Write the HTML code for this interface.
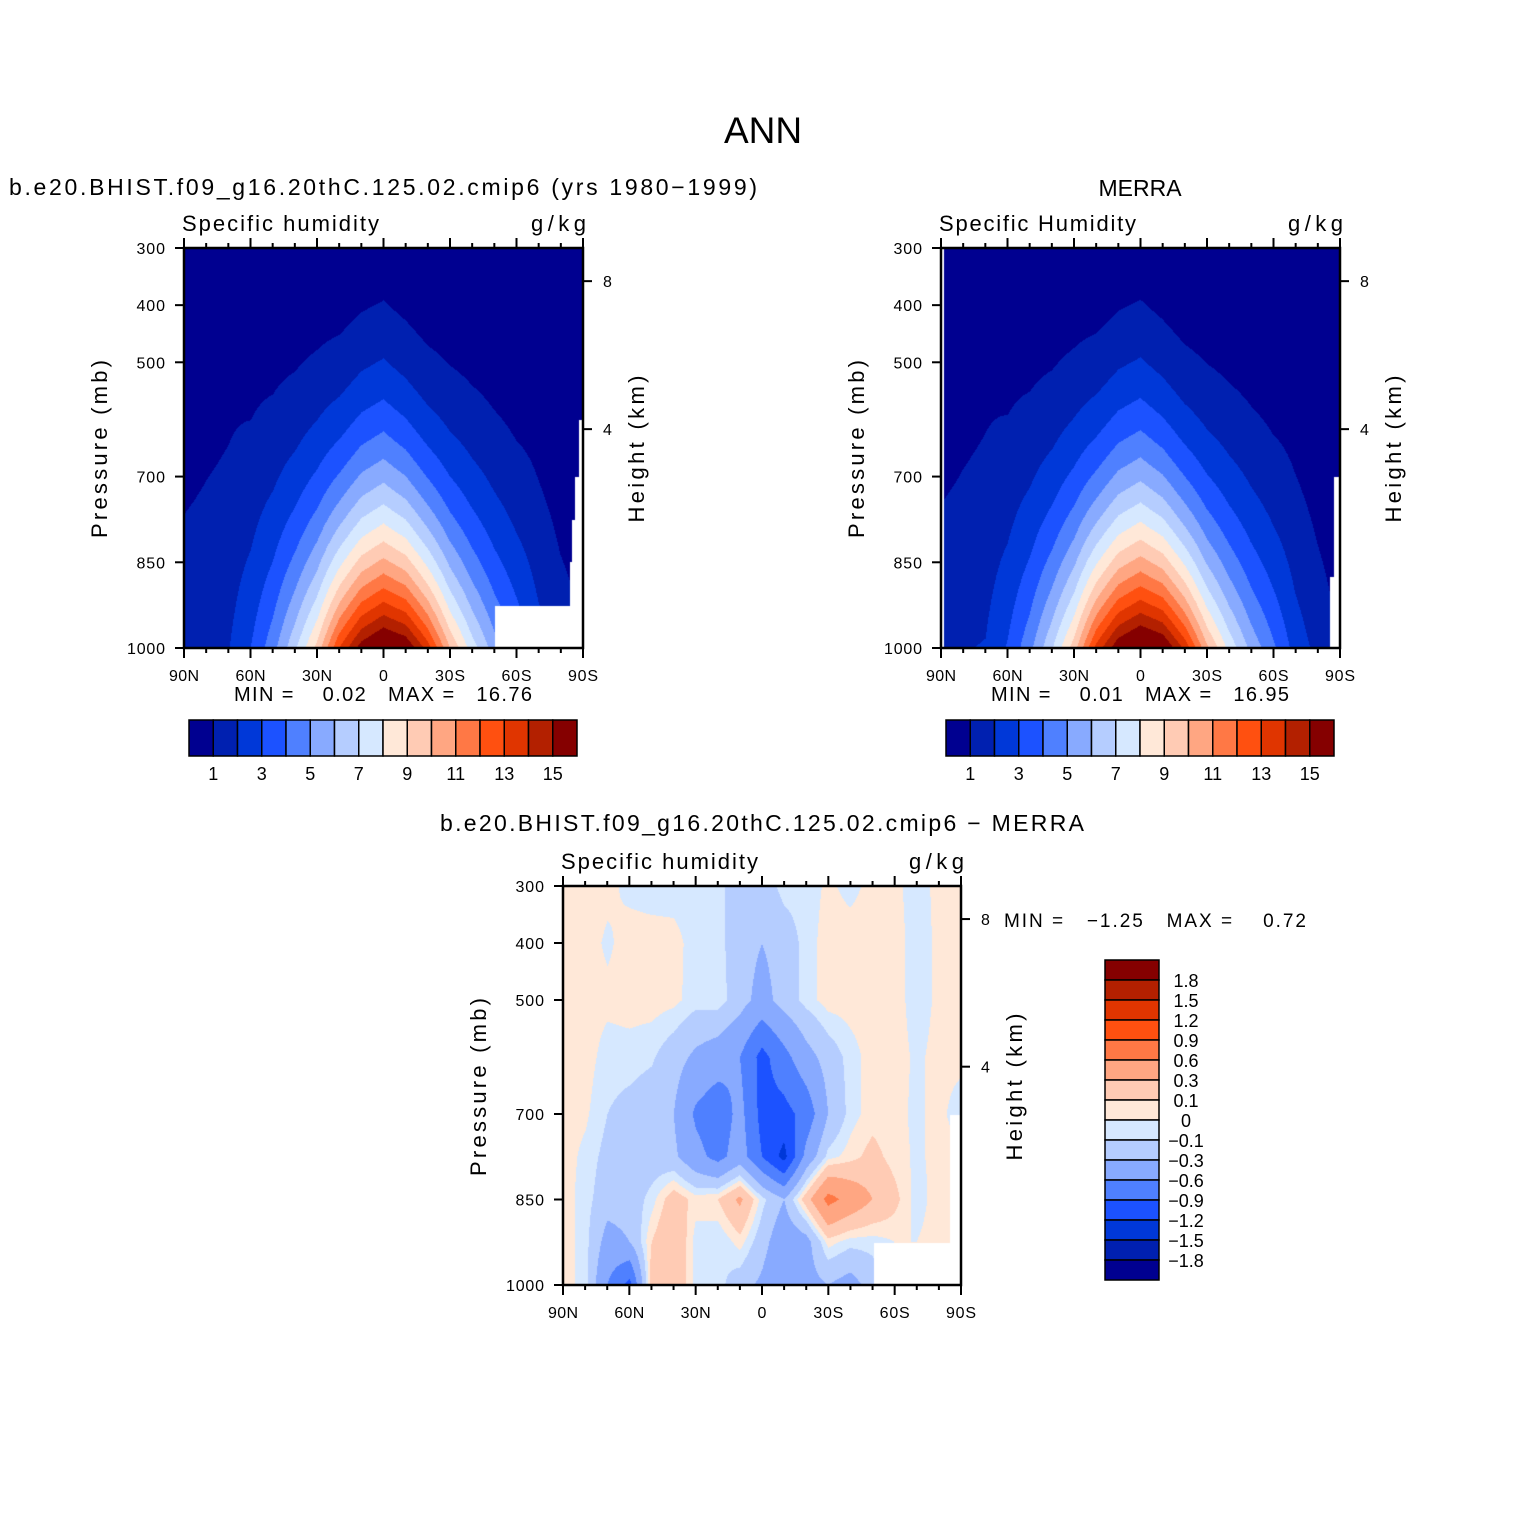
<!DOCTYPE html>
<html><head><meta charset="utf-8">
<style>
body{margin:0;background:#fff;}
#wrap{position:relative;width:1524px;height:1524px;overflow:hidden;background:#fff;}
canvas{position:absolute;}
svg{position:absolute;left:0;top:0;}
text{font-family:"Liberation Sans",sans-serif;fill:#000;white-space:pre;}
</style></head>
<body>
<div id="wrap">
<canvas id="c1" style="left:184px;top:248px" width="399" height="400"></canvas>
<canvas id="c2" style="left:941px;top:248px" width="399" height="400"></canvas>
<canvas id="c3" style="left:563px;top:886px" width="398" height="399"></canvas>
<svg id="svg" width="1524" height="1524"></svg>
</div>
<script>
// ---------- data ----------
const lats = [90,80,70,60,50,40,30,20,10,0,-10,-20,-30,-40,-50,-60,-70,-80,-90];
const modelSurfaceQ = [1.8,1.85,1.95,3.0,4.6,6.8,9.3,13,15.5,16.7,16,13.5,10,7.5,5.5,4,2.5,1.6,1.1];
const merraSurfaceQ = [1.9,1.95,2.05,3.1,4.7,6.9,9.5,13.3,15.8,16.9,16.2,13.7,10.2,7.7,5.7,4.2,2.6,1.7,1.0];
const decayExponent = [2.2,1.77,1.52,2.16,2.6,2.9,3.02,3.23,3.09,3.0,3.25,3.45,3.37,3.27,3.16,3.07,2.63,2.64,2.6];
const qLevels = [1,2,3,4,5,6,7,8,9,10,11,12,13,14,15];
const qTickLabels = ['1','3','5','7','9','11','13','15'];
const diffPres = [300,400,500,600,700,775,850,925,1000];
const diffRows = [
 [0.05,0.05,0.03,-0.03,-0.05,-0.05,-0.05,-0.05,-0.2,-0.2,-0.05,-0.05,0.02,-0.03,0.03,0.03,-0.05,0.03,0.03],
 [0.05,0.05,-0.02,0.05,0.05,0.04,-0.05,-0.05,-0.2,-0.3,-0.2,-0.05,0.05,0.05,0.05,0.05,-0.05,0.02,0.02],
 [0.05,0.05,0.03,0.05,0.05,0.03,-0.05,-0.03,-0.2,-0.4,-0.2,-0.05,0.05,0.05,0.05,0.05,-0.05,0.02,0.02],
 [0.05,0.05,-0.05,-0.05,-0.08,-0.2,-0.35,-0.45,-0.6,-1.0,-0.7,-0.4,-0.2,-0.05,0.05,0.05,-0.02,0.03,0.03],
 [0.05,0.02,-0.1,-0.15,-0.2,-0.3,-0.65,-0.8,-0.5,-1.0,-1.0,-0.8,-0.3,-0.05,0.05,0.03,-0.02,0.03,-0.05],
 [0.05,-0.03,-0.15,-0.2,-0.2,-0.25,-0.5,-0.7,-0.45,-0.9,-1.3,-0.5,-0.05,0.05,0.15,0.05,-0.02,0.03,0.03],
 [0.05,-0.05,-0.2,-0.2,-0.05,0.2,0.05,0.1,0.35,-0.05,-0.3,0.2,0.7,0.5,0.3,0.15,-0.05,0.05,0.05],
 [0.05,-0.05,-0.4,-0.3,0.1,0.3,-0.05,-0.1,0.05,-0.2,-0.5,-0.4,0.05,-0.05,-0.05,0,0,0.05,0.05],
 [0.05,-0.05,-0.6,-1.0,0.2,0.3,-0.05,-0.05,-0.2,-0.35,-0.6,-0.4,-0.3,-0.4,-0.2,0,0,0.05,0.05]
];
const diffLevels = [-1.8,-1.5,-1.2,-0.9,-0.6,-0.3,-0.1,0,0.1,0.3,0.6,0.9,1.2,1.5,1.8];
const diffTickLabels = ['1.8','1.5','1.2','0.9','0.6','0.3','0.1','0','\u22120.1','\u22120.3','\u22120.6','\u22120.9','\u22121.2','\u22121.5','\u22121.8'];
const presTicks = [300,400,500,700,850,1000];
const heightTicks = [4,8];
const heightTickP = [617,358];
const latTickLabels = ['90N','60N','30N','0','30S','60S','90S'];
const colors = ['#000090','#0020b0','#0038d8','#1c52ff','#4f80ff','#88aaff','#b5cdff','#d6e8ff','#ffe8d8','#ffcbb4','#ffa682','#ff7845','#ff5010','#e03500','#b32000','#850000'];

// ---------- helpers ----------
function interpLat(arr, lat){
  let f=(90-lat)/10; let i=Math.min(17,Math.max(0,Math.floor(f))); let t=f-i;
  return arr[i]*(1-t)+arr[i+1]*t;
}
function diffAt(lat,p){
  let f=(90-lat)/10; let i=Math.min(17,Math.max(0,Math.floor(f))); let t=f-i;
  let j=0; while(j<diffPres.length-2 && p>diffPres[j+1]) j++;
  let u=(p-diffPres[j])/(diffPres[j+1]-diffPres[j]); u=Math.max(0,Math.min(1,u));
  const a=diffRows[j][i]*(1-t)+diffRows[j][i+1]*t;
  const b=diffRows[j+1][i]*(1-t)+diffRows[j+1][i+1]*t;
  return a*(1-u)+b*u;
}
function hex(c){return [parseInt(c.substr(1,2),16),parseInt(c.substr(3,2),16),parseInt(c.substr(5,2),16)];}
const rgb=colors.map(hex);
function drawField(id, fn, levels, masks){
  const cv=document.getElementById(id), ctx=cv.getContext('2d');
  const w=cv.width,h=cv.height, img=ctx.createImageData(w,h);
  for(let y=0;y<h;y++){for(let x=0;x<w;x++){
    const k=(y*w+x)*4;
    let masked=false;
    for(const m of masks){ if(x>=m[0]&&x<m[2]&&y>=m[1]&&y<m[3]){masked=true;break;} }
    if(masked){img.data[k]=255;img.data[k+1]=255;img.data[k+2]=255;img.data[k+3]=255;continue;}
    const lat=90-x/(w-1)*180, p=300+y/(h-1)*700;
    const v=fn(lat,p); let b=0; while(b<levels.length && v>=levels[b]) b++;
    const c=rgb[b]; img.data[k]=c[0];img.data[k+1]=c[1];img.data[k+2]=c[2];img.data[k+3]=255;
  }}
  ctx.putImageData(img,0,0);
}
drawField('c1',(lat,p)=>interpLat(modelSurfaceQ,lat)*Math.pow(p/1000,interpLat(decayExponent,lat)),qLevels,
  [[311,358,399,400],[395,172,399,400],[391,229,399,400],[388,272,399,400],[386,314,399,400]]);
drawField('c2',(lat,p)=>interpLat(merraSurfaceQ,lat)*Math.pow(p/1000,interpLat(decayExponent,lat)),qLevels,
  [[0,0,3,400],[393,229,399,400],[389,329,399,400]]);
drawField('c3',diffAt,diffLevels,[[311,357,398,399],[387,229,398,399]]);

// ---------- svg ----------
const NS='http://www.w3.org/2000/svg', svg=document.getElementById('svg');
function el(tag,attrs,parent){const e=document.createElementNS(NS,tag);for(const k in attrs)e.setAttribute(k,attrs[k]);(parent||svg).appendChild(e);return e;}
function txt(s,x,y,size,anchor,name,extra){const t=el('text',Object.assign({x:x,y:y,'font-size':size,'text-anchor':anchor||'start'},extra||{}));t.textContent=s;


return t;}

txt('ANN',763,143,37,'middle','figure-title');
txt('b.e20.BHIST.f09_g16.20thC.125.02.cmip6 (yrs 1980\u22121999)',9,195,23,'start','model-panel-title',{textLength:748});
txt('MERRA',1140,196,23,'middle','merra-panel-title');
txt('b.e20.BHIST.f09_g16.20thC.125.02.cmip6 \u2212 MERRA',440,831,23,'start','difference-panel-title',{textLength:644});

function panel(P,varName,prefix){
  const g=el('g',{});
  
  
  const X=lat=>P.x+(90-lat)/180*P.w, Y=p=>P.y+(p-300)/700*P.h;
  el('rect',{x:P.x,y:P.y,width:P.w,height:P.h,fill:'none',stroke:'#000','stroke-width':2.5},g);
  for(let lat=90;lat>=-90;lat-=10){
    const major=lat%30===0, L=major?10:5;
    el('line',{x1:X(lat),x2:X(lat),y1:P.y,y2:P.y-L,stroke:'#000','stroke-width':2},g);
    el('line',{x1:X(lat),x2:X(lat),y1:P.y+P.h,y2:P.y+P.h+L,stroke:'#000','stroke-width':2},g);
  }
  latTickLabels.forEach((s,i)=>txt(s,X(90-i*30),P.y+P.h+33,16,'middle',prefix+'-x-tick-label',{textLength:(s.length===1?12:30)}));
  presTicks.forEach(p=>{
    el('line',{x1:P.x,x2:P.x-9,y1:Y(p),y2:Y(p),stroke:'#000','stroke-width':2},g);
    txt(String(p),P.x-19,Y(p)+6,16,'end',prefix+'-y-tick-label',{textLength:(String(p).length*9.5)});
  });
  heightTicks.forEach((h,i)=>{
    const y=Y(heightTickP[i]);
    el('line',{x1:P.x+P.w,x2:P.x+P.w+9,y1:y,y2:y,stroke:'#000','stroke-width':2},g);
    txt(String(h),P.x+P.w+20,y+6,16,'start',prefix+'-height-tick-label');
  });
  txt(varName,P.x-2,P.y-17,22,'start',prefix+'-variable-label',{textLength:197});
  txt('g/kg',P.x+P.w+3,P.y-17,22,'end',prefix+'-units-label',{textLength:55});
  txt('Pressure (mb)',0,0,22,'middle',prefix+'-y-axis-title',{transform:`translate(${P.x-77},${P.y+201}) rotate(-90)`,textLength:178});
  txt('Height (km)',0,0,22,'middle',prefix+'-height-axis-title',{transform:`translate(${P.x+P.w+61},${P.y+201}) rotate(-90)`,textLength:147});
}
panel({x:184,y:248,w:399,h:400},'Specific humidity','model');
panel({x:941,y:248,w:399,h:400},'Specific Humidity','merra');
panel({x:563,y:886,w:398,h:399},'Specific humidity','difference');

txt('MIN =    0.02   MAX =   16.76',234,701,20,'start','model-min-max',{textLength:298});
txt('MIN =    0.01   MAX =   16.95',991,701,20,'start','merra-min-max',{textLength:298});
txt('MIN =   \u22121.25   MAX =    0.72',1004,927,19,'start','difference-min-max',{textLength:302});

function hbar(x0,y0,prefix){
  const bw=388/16;
  colors.forEach((c,i)=>{
    const r=el('rect',{x:x0+i*bw,y:y0,width:bw,height:36,fill:c,stroke:'#000','stroke-width':1.5});
    
    
  });
  qTickLabels.forEach((s,i)=>txt(s,x0+(1+2*i)*bw,y0+60,18,'middle',prefix+'-colorbar-label'));
}
hbar(189,720,'model');
hbar(946,720,'merra');
// vertical diff colorbar
const vx=1105,vy=960,vh=20;
colors.slice().reverse().forEach((c,i)=>{
  const r=el('rect',{x:vx,y:vy+i*vh,width:54,height:vh,fill:c,stroke:'#000','stroke-width':1.5});
  
  
});
diffTickLabels.forEach((s,i)=>txt(s,1186,vy+(i+1)*vh+7,18,'middle','difference-colorbar-label'));
</script>
</body></html>
